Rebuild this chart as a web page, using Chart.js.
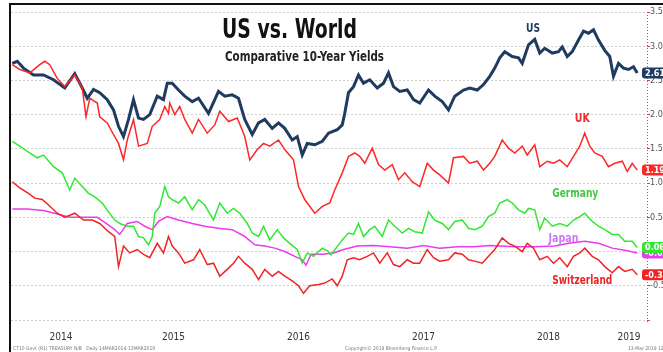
<!DOCTYPE html>
<html lang="en">
<head>
<meta charset="UTF-8">
<title>US vs. World</title>
<style>
    body { margin: 0; background: #fff; }
    #wrap { width: 663px; height: 352px; }
</style>
</head>
<body>
<div id="wrap"><canvas id="yieldChart" width="663" height="352"></canvas></div>

<script src="https://cdn.jsdelivr.net/npm/chart.js"></script>
<script>
// 10-year government yields, dates as decimal years
var usDates = [2014.21,2014.25,2014.30,2014.38,2014.46,2014.54,2014.63,2014.71,2014.77,2014.81,
    2014.86,2014.91,2014.97,2015.02,2015.06,2015.10,2015.14,2015.18,2015.22,2015.26,
    2015.31,2015.37,2015.42,2015.45,2015.49,2015.54,2015.59,2015.65,2015.70,2015.78,
    2015.86,2015.91,2015.97,2016.02,2016.07,2016.13,2016.18,2016.23,2016.29,2016.34,
    2016.39,2016.45,2016.49,2016.53,2016.57,2016.63,2016.69,2016.74,2016.81,2016.85,
    2016.87,2016.90,2016.94,2016.98,2017.02,2017.07,2017.13,2017.18,2017.22,2017.26,
    2017.31,2017.37,2017.42,2017.47,2017.54,2017.59,2017.65,2017.70,2017.75,2017.82,
    2017.87,2017.93,2017.98,2018.03,2018.07,2018.11,2018.15,2018.21,2018.26,2018.29,
    2018.34,2018.39,2018.43,2018.47,2018.53,2018.58,2018.61,2018.65,2018.69,2018.74,
    2018.78,2018.82,2018.86,2018.90,2018.95,2018.99,2019.02,2019.06,2019.10,2019.14,
    2019.18,2019.21];
var usYields = [2.75,2.78,2.68,2.58,2.58,2.51,2.39,2.60,2.39,2.24,
    2.37,2.32,2.22,2.07,1.83,1.68,1.93,2.22,1.95,1.93,
    2.00,2.27,2.22,2.46,2.46,2.36,2.27,2.19,2.24,2.02,
    2.34,2.27,2.29,2.24,1.93,1.71,1.88,1.93,1.80,1.88,
    1.80,1.63,1.68,1.41,1.58,1.56,1.61,1.73,1.78,1.85,
    2.02,2.32,2.41,2.58,2.46,2.51,2.39,2.46,2.61,2.41,
    2.34,2.36,2.22,2.17,2.36,2.27,2.19,2.07,2.27,2.36,
    2.39,2.36,2.44,2.56,2.68,2.83,2.92,2.85,2.83,2.75,
    3.02,3.10,2.90,2.97,2.90,2.92,2.99,2.85,2.92,3.09,
    3.22,3.19,3.24,3.09,2.94,2.85,2.56,2.75,2.68,2.66,
    2.70,2.61];

var ukDates = [2014.21,2014.27,2014.35,2014.43,2014.47,2014.51,2014.57,2014.63,2014.71,2014.77,
    2014.80,2014.83,2014.89,2014.91,2014.97,2015.02,2015.06,2015.10,2015.13,2015.18,
    2015.22,2015.29,2015.33,2015.39,2015.43,2015.46,2015.47,2015.51,2015.55,2015.59,
    2015.65,2015.70,2015.77,2015.83,2015.87,2015.94,2016.01,2016.07,2016.11,2016.17,
    2016.22,2016.27,2016.34,2016.39,2016.46,2016.50,2016.55,2016.63,2016.69,2016.75,
    2016.79,2016.85,2016.90,2016.95,2016.99,2017.03,2017.09,2017.14,2017.19,2017.25,
    2017.30,2017.35,2017.41,2017.47,2017.53,2017.58,2017.63,2017.70,2017.74,2017.82,
    2017.87,2017.93,2017.98,2018.03,2018.07,2018.13,2018.18,2018.23,2018.29,2018.33,
    2018.39,2018.43,2018.49,2018.54,2018.59,2018.65,2018.70,2018.75,2018.79,2018.83,
    2018.87,2018.93,2018.98,2019.03,2019.09,2019.13,2019.17,2019.21];
var ukYields = [2.73,2.66,2.61,2.73,2.78,2.73,2.53,2.41,2.58,2.39,
    1.97,2.24,2.17,1.97,1.88,1.71,1.58,1.34,1.63,1.93,
    1.54,1.58,1.83,1.93,2.12,2.02,2.17,2.00,2.12,1.93,
    1.73,1.93,1.73,1.85,2.05,1.90,1.95,1.68,1.34,1.49,
    1.58,1.54,1.63,1.49,1.34,0.95,0.76,0.56,0.66,0.71,
    0.90,1.15,1.39,1.44,1.39,1.29,1.51,1.27,1.19,1.27,
    1.05,1.15,1.02,0.95,1.29,1.19,1.12,1.00,1.37,1.39,
    1.29,1.32,1.19,1.29,1.39,1.63,1.51,1.44,1.54,1.41,
    1.56,1.24,1.32,1.29,1.34,1.24,1.39,1.54,1.73,1.54,
    1.44,1.39,1.24,1.29,1.32,1.17,1.29,1.19];

var deDates = [2014.21,2014.27,2014.35,2014.41,2014.46,2014.54,2014.61,2014.67,2014.71,2014.77,
    2014.82,2014.87,2014.93,2014.98,2015.03,2015.07,2015.13,2015.18,2015.22,2015.26,
    2015.30,2015.33,2015.35,2015.39,2015.43,2015.46,2015.49,2015.54,2015.59,2015.65,
    2015.70,2015.75,2015.82,2015.87,2015.93,2015.98,2016.03,2016.09,2016.13,2016.18,
    2016.22,2016.27,2016.33,2016.38,2016.43,2016.49,2016.53,2016.57,2016.62,2016.69,
    2016.74,2016.76,2016.80,2016.85,2016.90,2016.94,2016.98,2017.02,2017.07,2017.11,
    2017.17,2017.22,2017.27,2017.33,2017.38,2017.43,2017.49,2017.54,2017.59,2017.65,
    2017.70,2017.75,2017.81,2017.86,2017.91,2017.97,2018.02,2018.07,2018.11,2018.17,
    2018.21,2018.26,2018.31,2018.34,2018.39,2018.43,2018.47,2018.53,2018.59,2018.65,
    2018.70,2018.75,2018.79,2018.85,2018.90,2018.95,2019.01,2019.06,2019.11,2019.17,
    2019.21];
var deYields = [1.61,1.54,1.44,1.37,1.41,1.24,1.15,0.90,1.07,0.95,
    0.85,0.80,0.71,0.58,0.46,0.41,0.37,0.37,0.22,0.20,
    0.10,0.22,0.56,0.66,0.95,0.80,0.76,0.71,0.80,0.61,
    0.76,0.68,0.46,0.71,0.56,0.63,0.56,0.41,0.27,0.22,
    0.37,0.17,0.32,0.20,0.12,0.03,-0.17,-0.02,-0.07,0.05,
    0.00,-0.05,0.05,0.17,0.27,0.25,0.41,0.22,0.32,0.37,
    0.22,0.46,0.37,0.27,0.34,0.29,0.27,0.58,0.46,0.41,
    0.32,0.44,0.46,0.34,0.32,0.37,0.51,0.56,0.71,0.76,
    0.71,0.61,0.56,0.63,0.61,0.32,0.49,0.37,0.41,0.37,
    0.46,0.51,0.56,0.44,0.37,0.32,0.25,0.25,0.15,0.15,
    0.06];

var jpDates = [2014.21,2014.33,2014.46,2014.57,2014.67,2014.78,2014.89,2014.97,2015.03,2015.07,
    2015.13,2015.21,2015.27,2015.33,2015.38,2015.45,2015.54,2015.65,2015.75,2015.86,
    2015.97,2016.07,2016.15,2016.23,2016.31,2016.39,2016.47,2016.53,2016.56,2016.60,
    2016.69,2016.78,2016.86,2016.97,2017.10,2017.23,2017.37,2017.50,2017.63,2017.77,
    2017.90,2018.03,2018.23,2018.39,2018.55,2018.66,2018.79,2018.90,2019.01,2019.11,
    2019.21];
var jpYields = [0.62,0.62,0.60,0.55,0.50,0.50,0.50,0.40,0.32,0.25,
    0.41,0.44,0.37,0.32,0.44,0.51,0.46,0.41,0.37,0.34,
    0.32,0.22,0.10,0.08,0.05,0.00,-0.07,-0.12,-0.20,-0.04,
    -0.04,-0.02,0.03,0.08,0.09,0.07,0.05,0.09,0.05,0.07,
    0.07,0.09,0.07,0.07,0.08,0.12,0.15,0.12,0.05,0.02,
    -0.02];

var chDates = [2014.21,2014.27,2014.34,2014.39,2014.45,2014.50,2014.57,2014.63,2014.71,2014.78,
    2014.85,2014.91,2014.98,2015.03,2015.06,2015.10,2015.15,2015.21,2015.26,2015.31,
    2015.37,2015.42,2015.46,2015.49,2015.54,2015.59,2015.66,2015.71,2015.77,2015.82,
    2015.87,2015.93,2015.98,2016.02,2016.07,2016.13,2016.18,2016.23,2016.29,2016.34,
    2016.39,2016.45,2016.50,2016.54,2016.59,2016.66,2016.71,2016.77,2016.81,2016.85,
    2016.89,2016.94,2016.99,2017.05,2017.10,2017.15,2017.21,2017.26,2017.31,2017.37,
    2017.42,2017.47,2017.53,2017.58,2017.63,2017.70,2017.75,2017.81,2017.86,2017.91,
    2017.97,2018.02,2018.07,2018.13,2018.18,2018.23,2018.29,2018.33,2018.38,2018.43,
    2018.49,2018.54,2018.59,2018.65,2018.70,2018.75,2018.79,2018.85,2018.90,2018.95,
    2019.01,2019.06,2019.11,2019.17,2019.21];
var chYields = [1.02,0.93,0.85,0.78,0.76,0.68,0.56,0.50,0.56,0.46,
    0.46,0.41,0.29,0.22,-0.22,0.08,-0.02,0.03,-0.04,-0.09,
    0.12,-0.02,0.22,0.08,-0.02,-0.17,-0.12,0.03,-0.19,-0.17,
    -0.36,-0.26,-0.17,-0.07,-0.17,-0.26,-0.41,-0.26,-0.36,-0.29,
    -0.36,-0.43,-0.50,-0.61,-0.50,-0.48,-0.46,-0.40,-0.50,-0.36,
    -0.12,-0.09,-0.12,-0.07,-0.02,-0.17,-0.02,-0.19,-0.22,-0.12,
    -0.17,-0.17,0.03,-0.09,-0.14,-0.12,-0.02,-0.04,-0.12,-0.14,
    -0.17,-0.07,0.03,0.20,0.12,0.08,0.00,0.12,0.05,-0.12,
    -0.07,-0.17,-0.09,-0.22,-0.07,-0.02,0.05,-0.07,-0.12,-0.22,
    -0.31,-0.22,-0.29,-0.26,-0.34];

var yearRange = [2014.2, 2019.288];
var yieldRange = [-1.0, 3.5];

function points(dates, vals) {
    return dates.map(function (d, i) { return { x: d, y: vals[i] }; });
}

// name tag anchor (year, yield) for each line
var series = [
    { name: 'UK', dates: ukDates, vals: ukYields, color: '#ff2626', width: 1.5, tagColor: '#f22a2a', tagAt: [2018.71, 1.90], tagW: 15 },
    { name: 'US', dates: usDates, vals: usYields, color: '#1f3b60', width: 3, tagColor: '#1f3b60', tagAt: [2018.32, 3.21], tagW: 14 },
    { name: 'Germany', dates: deDates, vals: deYields, color: '#2fe82f', width: 1.5, tagColor: '#45c545', tagAt: [2018.53, 0.80], tagW: 46 },
    { name: 'Switzerland', dates: chDates, vals: chYields, color: '#f02424', width: 1.5, tagColor: '#ea2424', tagAt: [2018.53, -0.47], tagW: 60 },
    { name: 'Japan', dates: jpDates, vals: jpYields, color: '#ea3cea', width: 1.5, tagColor: '#c77cf5', tagAt: [2018.50, 0.14], tagW: 30 }
];

// squeezed bold text, Bloomberg-style
function fitText(ctx, text, x, y, w, font, color) {
    ctx.save();
    ctx.font = font;
    ctx.fillStyle = color;
    ctx.textBaseline = 'alphabetic';
    var m = ctx.measureText(text).width;
    ctx.translate(x, y);
    ctx.scale(w / m, 1);
    ctx.fillText(text, 0, 0);
    ctx.restore();
}

function roundBox(ctx, x, y, w, h, r) {
    ctx.beginPath();
    ctx.moveTo(x + r, y);
    ctx.lineTo(x + w - r, y);
    ctx.arcTo(x + w, y, x + w, y + r, r);
    ctx.lineTo(x + w, y + h - r);
    ctx.arcTo(x + w, y + h, x + w - r, y + h, r);
    ctx.lineTo(x + r, y + h);
    ctx.arcTo(x, y + h, x, y + h - r, r);
    ctx.lineTo(x, y + r);
    ctx.arcTo(x, y, x + r, y, r);
    ctx.closePath();
}

var decorations = {
    id: 'decorations',
    afterDraw: function (chart) {
        var ctx = chart.ctx;
        var xs = chart.scales.x, ys = chart.scales.y;
        var area = chart.chartArea;

        ctx.save();
        // frame
        ctx.fillStyle = '#111';
        ctx.fillRect(9, 3, 654, 2);
        ctx.fillRect(9, 3, 2, 349);

        // dotted red value axis
        ctx.strokeStyle = '#f03a3a';
        ctx.lineWidth = 1;
        ctx.setLineDash([1, 2]);
        ctx.beginPath();
        ctx.moveTo(area.right + 0.5, area.top);
        ctx.lineTo(area.right + 0.5, area.bottom + 2);
        ctx.stroke();
        ctx.setLineDash([]);
        ctx.restore();

        // titles
        fitText(ctx, 'US vs. World', 222, 38, 135, 'bold 27px "DejaVu Sans"', '#111');
        fitText(ctx, 'Comparative 10-Year Yields', 225, 61, 159, 'bold 14px "DejaVu Sans"', '#222');

        // line names
        series.forEach(function (s) {
            fitText(ctx, s.name, xs.getPixelForValue(s.tagAt[0]), ys.getPixelForValue(s.tagAt[1]),
                s.tagW, 'bold 13px "DejaVu Sans"', s.tagColor);
        });

        // last value boxes on the axis (Japan first so Germany sits on top)
        ['Japan', 'US', 'UK', 'Germany', 'Switzerland'].forEach(function (n) {
            var s = series.find(function (d) { return d.name === n; });
            var last = s.vals[s.vals.length - 1];
            var py = ys.getPixelForValue(last);
            ctx.save();
            ctx.fillStyle = s.color;
            roundBox(ctx, area.right - 5, py - 5.5, 30, 11, 3);
            ctx.fill();
            ctx.fillStyle = '#fff';
            ctx.font = 'bold 9px "DejaVu Sans Condensed", "DejaVu Sans"';
            ctx.textBaseline = 'middle';
            ctx.fillText(last.toFixed(2), area.right - 2, py + 0.5);
            ctx.restore();
        });

        // footer
        ctx.save();
        ctx.fillStyle = '#777';
        ctx.font = '5px "DejaVu Sans Condensed", "DejaVu Sans"';
        ctx.textBaseline = 'alphabetic';
        ctx.fillText('CT10 Govt (R1) TREASURY N/B   Daily 14MAR2014-13MAR2019', 13, 350);
        ctx.fillText('Copyright\u00a9 2019 Bloomberg Finance L.P.', 345, 350);
        ctx.fillText('13-Mar-2019 12:55:14', 628, 350);
        ctx.restore();
    }
};

new Chart(document.getElementById('yieldChart'), {
    type: 'line',
    data: {
        datasets: series.map(function (s) {
            return {
                label: s.name,
                data: points(s.dates, s.vals),
                borderColor: s.color,
                borderWidth: s.width,
                pointRadius: 0,
                tension: 0,
                fill: false
            };
        })
    },
    plugins: [decorations],
    options: {
        responsive: false,
        animation: false,
        devicePixelRatio: 1,
        layout: { padding: { left: 11, top: 12, right: 0, bottom: 0 } },
        plugins: { legend: { display: false }, tooltip: { enabled: false } },
        scales: {
            x: {
                type: 'linear',
                min: yearRange[0],
                max: yearRange[1],
                grid: { display: false, drawTicks: false },
                border: { display: false },
                afterBuildTicks: function (scale) {
                    // one label per calendar year, centred on its visible span
                    var ticks = [];
                    for (var yr = Math.floor(scale.min); yr <= Math.floor(scale.max); yr++) {
                        var lo = Math.max(yr, scale.min), hi = Math.min(yr + 1, scale.max);
                        ticks.push({ value: (lo + hi) / 2 });
                    }
                    scale.ticks = ticks;
                },
                afterFit: function (scale) { scale.height = 32; },
                ticks: {
                    autoSkip: false,
                    maxRotation: 0,
                    padding: 11,
                    color: '#333',
                    font: { family: '"Liberation Sans Narrow", "DejaVu Sans Condensed", sans-serif', size: 10 },
                    callback: function (v) { return Math.floor(v); }
                }
            },
            y: {
                position: 'right',
                min: yieldRange[0],
                max: yieldRange[1],
                afterFit: function (scale) { scale.width = 16; },
                grid: {
                    color: '#cfcfcf',
                    lineWidth: 1,
                    tickColor: '#f03a3a',
                    tickLength: 3
                },
                border: { display: false, dash: [2, 2] },
                ticks: {
                    stepSize: 0.5,
                    padding: 0,
                    color: '#555',
                    font: { family: '"DejaVu Sans Condensed", "DejaVu Sans", sans-serif', size: 9 },
                    callback: function (v) { return v <= -1 ? '' : v.toFixed(2); }
                }
            }
        }
    }
});
</script>
</body>
</html>
